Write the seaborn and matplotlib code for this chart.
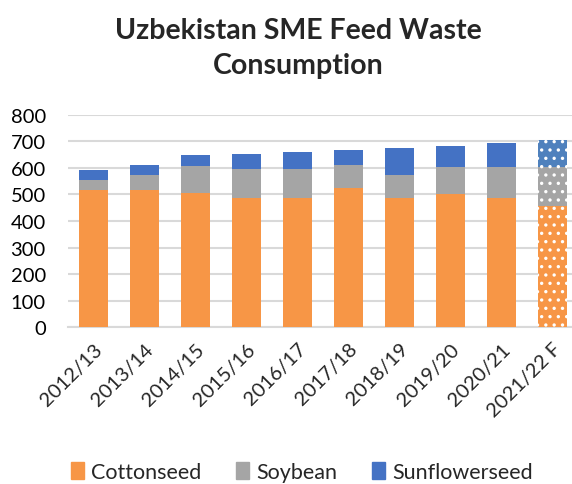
"""
Uzbekistan SME feed waste consumption - stacked bars
"""

import matplotlib
matplotlib.use("Agg")
import matplotlib.pyplot as plt
import matplotlib.patches as mpatches
import seaborn as sns
import pandas as pd
import numpy as np

sns.set_theme(style="white")
plt.rcParams["font.family"] = ["Lato", "DejaVu Sans"]
plt.rcParams["hatch.linewidth"] = 1.2

years = ["2012/13", "2013/14", "2014/15", "2015/16", "2016/17",
         "2017/18", "2018/19", "2019/20", "2020/21", "2021/22 F"]
cottonseed = [517, 517, 504, 485, 485, 524, 485, 503, 488, 456]
soybean = [37, 56, 102, 109, 109, 85, 88, 101, 115, 147]
sunflowerseed = [37, 39, 41, 57, 67, 59, 100, 77, 90, 103]

COLORS = {"Cottonseed": "#F79646", "Soybean": "#A5A5A5", "Sunflowerseed": "#4472C4"}
FORECAST_BLUE = "#4F81BD"

df = pd.DataFrame({"year": years, "Cottonseed": cottonseed,
                   "Soybean": soybean, "Sunflowerseed": sunflowerseed})
df["cum_soy"] = df["Cottonseed"] + df["Soybean"]
df["cum_sun"] = df["cum_soy"] + df["Sunflowerseed"]

fig = plt.figure(figsize=(5.72, 4.85), dpi=100)
ax = fig.add_axes([68 / 572, (485 - 328.3) / 485, 510 / 572, 212.6 / 485])

# stacked by overlaying cumulative totals, tallest first
layers = [("cum_sun", "Sunflowerseed"), ("cum_soy", "Soybean"), ("Cottonseed", "Cottonseed")]
for col, name in layers:
    sns.barplot(data=df, x="year", y=col, color=COLORS[name], saturation=1,
                width=0.57, linewidth=0, ax=ax, zorder=3)

# forecast year gets the dotted fill
n = len(years)
for i, (col, name) in enumerate(layers):
    p = ax.patches[i * n + n - 1]
    if name == "Sunflowerseed":
        p.set_facecolor(FORECAST_BLUE)
    p.set_hatch("..")
    p.set_edgecolor("white")
    p.set_linewidth(0)

ax.set_ylim(0, 800)
ax.set_xlim(-0.5, n - 0.5)
ax.set_yticks(np.arange(0, 801, 100))
ax.yaxis.grid(True, color="#D9D9D9", linewidth=1.5, zorder=0)
ax.set_axisbelow(True)
for s in ["top", "right", "left"]:
    ax.spines[s].set_visible(False)
ax.spines["bottom"].set_color("#D9D9D9")
ax.spines["bottom"].set_linewidth(1.5)
ax.set_xlabel("")
ax.set_ylabel("")
ax.tick_params(axis="y", labelsize=14.5, pad=16, length=0, colors="#000000")
ax.tick_params(axis="x", labelsize=14.5, length=0, pad=9)
plt.setp(ax.get_xticklabels(), rotation=45, ha="right", rotation_mode="anchor")

fig.text(0.522, 0.9, "Uzbekistan SME Feed Waste\nConsumption", ha="center", va="center",
         fontsize=20.5, fontweight="bold", linespacing=1.45)

handles = [mpatches.Patch(color=COLORS[k], label=k) for k in COLORS]
fig.legend(handles=handles, loc="center", bbox_to_anchor=(0.528, 0.025), ncol=3,
           frameon=False, fontsize=15.5, handlelength=0.6, handleheight=0.85,
           handletextpad=0.35, columnspacing=1.6)

fig.savefig("out.png", dpi=100)
